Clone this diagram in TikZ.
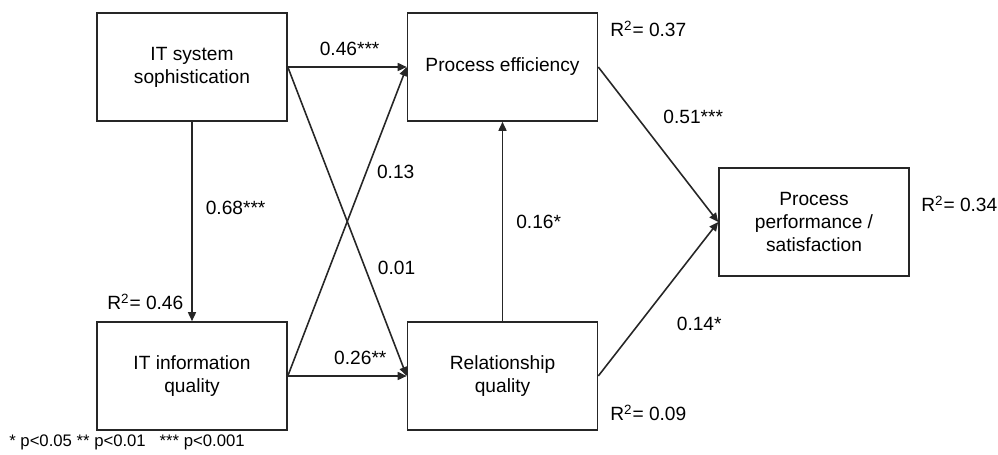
\documentclass[tikz,border=0pt]{standalone}
\usepackage{fontspec}
\setmainfont{Liberation Sans}
\usetikzlibrary{arrows.meta, positioning, calc}

\begin{document}
\begin{tikzpicture}[
    >={Triangle[length=1.8mm, width=1.6mm]},
    font=\fontsize{10.9}{13}\selectfont,
    construct/.style={draw=black!85, rectangle, minimum width=3.8cm, minimum height=2.16cm,
                      line width=0.9pt, align=center, inner sep=2pt},
    path/.style={->, line width=0.9pt, draw=black!85},
    coef/.style={font=\fontsize{10.9}{13}\selectfont, inner sep=0pt},
    rsq/.style={anchor=base west, inner sep=0pt},
]
\useasboundingbox (0,0) rectangle (19.96,-9.1);

% --- Constructs ---
\node[construct] (its) at (3.84, -1.34) {IT system\\sophistication};
\node[construct] (pe)  at (10.05, -1.34) {Process efficiency};
\node[construct] (itq) at (3.84, -7.52) {IT information\\quality};
\node[construct] (rq)  at (10.05, -7.52) {Relationship\\quality};
\node[construct] (pp)  at (16.28, -4.44) {Process\\performance /\\satisfaction};

% --- Paths ---
\draw[path] (its.east) -- node[coef, above=6pt, pos=0.52] (c1) {0.46***} (pe.west);
\draw[path] (its.south) -- node[coef, anchor=west, xshift=0.26cm, pos=0.43] (c2) {0.68***} (itq.north);
\draw[path] (its.east) -- node[coef, anchor=west, xshift=0.24cm, pos=0.65] (c3) {0.01} (rq.west);
\draw[path] (itq.east) -- node[coef, anchor=west, xshift=0.2cm, pos=0.66] (c4) {0.13} (pe.west);
\draw[path] (itq.east) -- node[coef, above=6pt, pos=0.61] (c5) {0.26**} (rq.west);
\draw[path] (rq.north) -- node[coef, anchor=west, xshift=0.26cm, pos=0.5] (c6) {0.16*} (pe.south);
\draw[path] (pe.east) -- node[coef, anchor=west, xshift=0.52cm, pos=0.32] (c7) {0.51***} (pp.west);
\draw[path] (rq.east) -- node[coef, anchor=west, xshift=0.74cm, pos=0.34] (c8) {0.14*} (pp.west);

% --- R-squared ---
\node[rsq] (r1) at (12.2, -0.74) {R\textsuperscript{2}= 0.37};
\node[rsq] (r2) at (2.14, -6.2) {R\textsuperscript{2}= 0.46};
\node[rsq] (r3) at (12.2, -8.42) {R\textsuperscript{2}= 0.09};
\node[rsq] (r4) at (18.42, -4.24) {R\textsuperscript{2}= 0.34};

% --- Significance note ---
\node[rsq, font=\fontsize{9.5}{11}\selectfont] (note) at (0.18, -8.94)
    {* p<0.05 ** p<0.01 \ \ *** p<0.001};

\end{tikzpicture}
\end{document}
